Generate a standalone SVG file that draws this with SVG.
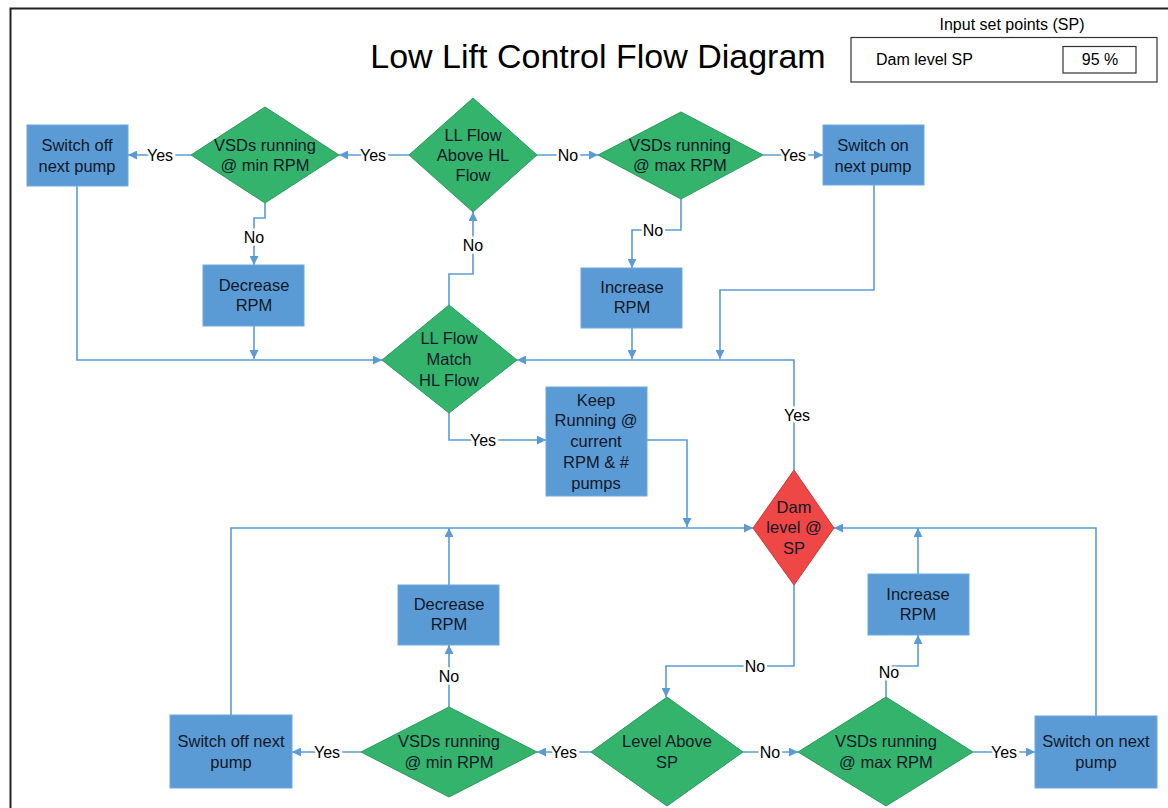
<svg xmlns="http://www.w3.org/2000/svg" width="1168" height="808" viewBox="0 0 1168 808">
<defs>
<marker id="arr" viewBox="0 0 10 10" refX="10" refY="5" markerWidth="9" markerHeight="9" markerUnits="userSpaceOnUse" orient="auto">
<path d="M0,0 L10,5 L0,10 z" fill="#5B9BD5"/>
</marker>
<style>
.box{fill:#5B9BD5;stroke:#6FA8DC;stroke-width:1}
.dia{fill:#33B36C;stroke:#2A9A5C;stroke-width:1}
.red{fill:#EF4646;stroke:#C83A3A;stroke-width:1}
.t{font-family:"Liberation Sans",Arial,sans-serif;font-size:16.5px;fill:#101828;text-anchor:middle;dominant-baseline:central}
.c{fill:none;stroke:#5B9BD5;stroke-width:1.6}
.a{marker-end:url(#arr)}
.lb{font-family:"Liberation Sans",Arial,sans-serif;font-size:16px;fill:#000;text-anchor:middle;dominant-baseline:central;stroke:#fff;stroke-width:5;paint-order:stroke}
.sp{font-family:"Liberation Sans",Arial,sans-serif;font-size:16px;fill:#000;dominant-baseline:central}
</style>
</defs>
<rect width="1168" height="808" fill="#fff"/>
<path d="M10.5,808 V8.5 H1168" fill="none" stroke="#222" stroke-width="2"/>

<g id="title"><text x="598" y="56" font-family="Liberation Sans, Arial, sans-serif" font-size="34" text-anchor="middle" dominant-baseline="central" fill="#000">Low Lift Control Flow Diagram</text></g>
<g id="setpoints">
<text class="sp" x="1012" y="24" font-size="16.5" text-anchor="middle">Input set points (SP)</text>
<rect x="851" y="37.5" width="306" height="44.5" fill="#fff" stroke="#333" stroke-width="1.2"/>
<text class="sp" x="876" y="59">Dam level SP</text>
<rect x="1063" y="46.5" width="73" height="26.5" fill="#fff" stroke="#333" stroke-width="1.2"/>
<text class="sp" x="1100" y="59" text-anchor="middle">95 %</text>
</g>

<g id="connectors">
<path class="c a" d="M191,155 H128"/>
<path class="c a" d="M409,155 H339"/>
<path class="c a" d="M537,155 H598"/>
<path class="c a" d="M763,155 H823"/>
<path class="c a" d="M265,203 V218 H254 V265"/>
<path class="c a" d="M254,326 V359"/>
<path class="c a" d="M77,186 V360 H382"/>
<path class="c a" d="M449,305 V274 H473 V212"/>
<path class="c a" d="M681,199 V230 H632 V268"/>
<path class="c a" d="M632,328 V359"/>
<path class="c a" d="M874,185 V290 H720 V359"/>
<path class="c a" d="M794,470 V360 H517"/>
<path class="c a" d="M449,413 V440 H546"/>
<path class="c a" d="M647,440 H687 V527"/>
<path class="c a" d="M231,715 V528 H753"/>
<path class="c a" d="M449,585 V528"/>
<path class="c a" d="M794,585 V666 H666 V697"/>
<path class="c a" d="M591,752 H537"/>
<path class="c a" d="M361,752 H292"/>
<path class="c a" d="M449,707 V645"/>
<path class="c a" d="M743,752 H798"/>
<path class="c a" d="M973,752 H1035"/>
<path class="c a" d="M886,697 V666 H918 V635"/>
<path class="c a" d="M918,574 V528"/>
<path class="c a" d="M1096,716 V528 H834"/>
<text class="lb" x="160" y="155">Yes</text>
<text class="lb" x="373" y="155">Yes</text>
<text class="lb" x="568" y="155">No</text>
<text class="lb" x="793" y="155">Yes</text>
<text class="lb" x="254" y="237">No</text>
<text class="lb" x="473" y="245">No</text>
<text class="lb" x="653" y="230">No</text>
<text class="lb" x="797" y="415">Yes</text>
<text class="lb" x="483" y="440">Yes</text>
<text class="lb" x="755" y="666">No</text>
<text class="lb" x="564" y="752">Yes</text>
<text class="lb" x="327" y="752">Yes</text>
<text class="lb" x="449" y="676">No</text>
<text class="lb" x="770" y="752">No</text>
<text class="lb" x="1004" y="752">Yes</text>
<text class="lb" x="889" y="672">No</text>
</g>

<g id="switch-off-top"><rect class="box" x="27" y="125" width="101" height="61"/><text class="t" x="77" y="145">Switch off</text><text class="t" x="77" y="166">next pump</text></g>
<g id="vsd-min-top"><polygon class="dia" points="265,107 339,155 265,203 191,155"/><text class="t" x="265" y="145">VSDs running</text><text class="t" x="265" y="165">@ min RPM</text></g>
<g id="ll-above"><polygon class="dia" points="473,98 537,155 473,212 409,155"/><text class="t" x="473" y="135">LL Flow</text><text class="t" x="473" y="155">Above HL</text><text class="t" x="473" y="175">Flow</text></g>
<g id="vsd-max-top"><polygon class="dia" points="681,112 763,155 681,199 598,155"/><text class="t" x="680" y="145">VSDs running</text><text class="t" x="680" y="165">@ max RPM</text></g>
<g id="switch-on-top"><rect class="box" x="823" y="125" width="101" height="60"/><text class="t" x="873" y="145">Switch on</text><text class="t" x="873" y="166">next pump</text></g>
<g id="decrease-top"><rect class="box" x="203" y="265" width="101" height="61"/><text class="t" x="254" y="285">Decrease</text><text class="t" x="254" y="305">RPM</text></g>
<g id="increase-top"><rect class="box" x="581" y="268" width="101" height="60"/><text class="t" x="632" y="287">Increase</text><text class="t" x="632" y="307">RPM</text></g>
<g id="ll-match"><polygon class="dia" points="449,305 517,360 449,413 382,360"/><text class="t" x="449" y="338">LL Flow</text><text class="t" x="449" y="359">Match</text><text class="t" x="449" y="380">HL Flow</text></g>
<g id="keep-running"><rect class="box" x="546" y="387" width="101" height="109"/><text class="t" x="596" y="400">Keep</text><text class="t" x="596" y="420">Running @</text><text class="t" x="596" y="441">current</text><text class="t" x="596" y="462">RPM &amp; #</text><text class="t" x="596" y="483">pumps</text></g>
<g id="dam-level"><polygon class="red" points="794,470 834,528 794,585 753,528"/><text class="t" x="794" y="507">Dam</text><text class="t" x="794" y="527">level @</text><text class="t" x="794" y="548">SP</text></g>
<g id="decrease-bottom"><rect class="box" x="398" y="585" width="101" height="60"/><text class="t" x="449" y="604">Decrease</text><text class="t" x="449" y="624">RPM</text></g>
<g id="increase-bottom"><rect class="box" x="868" y="574" width="101" height="61"/><text class="t" x="918" y="594">Increase</text><text class="t" x="918" y="614">RPM</text></g>
<g id="switch-off-bottom"><rect class="box" x="170" y="715" width="122" height="73"/><text class="t" x="231" y="741">Switch off next</text><text class="t" x="231" y="762">pump</text></g>
<g id="vsd-min-bottom"><polygon class="dia" points="449,707 537,752 449,797 361,752"/><text class="t" x="449" y="741">VSDs running</text><text class="t" x="449" y="762">@ min RPM</text></g>
<g id="level-above"><polygon class="dia" points="667,697 743,752 667,806 591,752"/><text class="t" x="667" y="741">Level Above</text><text class="t" x="667" y="762">SP</text></g>
<g id="vsd-max-bottom"><polygon class="dia" points="886,697 973,752 886,806 798,752"/><text class="t" x="886" y="741">VSDs running</text><text class="t" x="886" y="762">@ max RPM</text></g>
<g id="switch-on-bottom"><rect class="box" x="1035" y="716" width="122" height="72"/><text class="t" x="1096" y="741">Switch on next</text><text class="t" x="1096" y="762">pump</text></g>
</svg>
